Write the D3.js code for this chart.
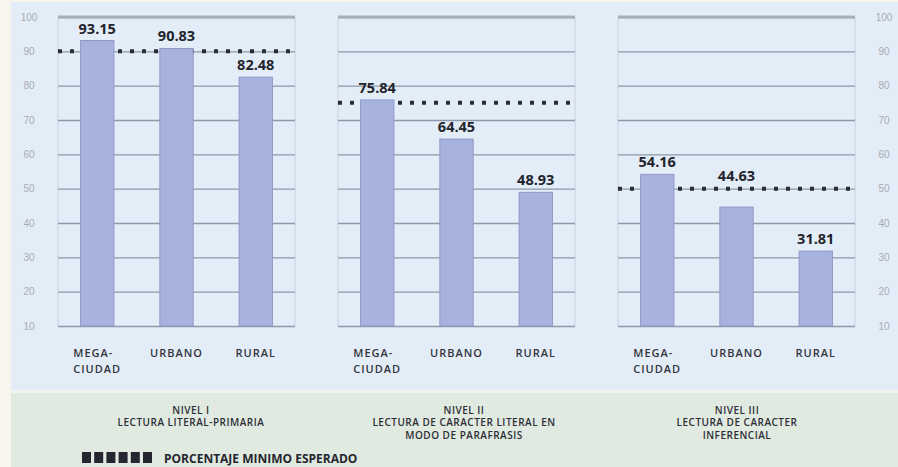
<!DOCTYPE html>
<html>
<head>
<meta charset="utf-8">
<script src="https://cdn.jsdelivr.net/npm/d3@7"></script>
<style>
  html, body { margin: 0; padding: 0; background: #f8f5ee; }
  svg { display: block; font-family: "Open Sans", "DejaVu Sans", sans-serif; }
  .grid line { stroke: #8e99aa; stroke-width: 1.4; }
  .grid .domain { display: none; }
  .yaxis .domain, .yaxis line { display: none; }
  .yaxis text { fill: #a7abb2; font-size: 10px; }
</style>
</head>
<body>
<div id="chart"></div>
<script>
// data
var categories = ["MEGA-CIUDAD", "URBANO", "RURAL"];
var catLines = [["MEGA-", "CIUDAD"], ["URBANO"], ["RURAL"]];
var nivelI = [93.15, 90.83, 82.48];
var nivelII = [75.84, 64.45, 48.93];
var nivelIII = [54.16, 44.63, 31.81];
var expected = [90, 75, 50];
var levelTitles = [
    ["NIVEL I", "LECTURA LITERAL-PRIMARIA"],
    ["NIVEL II", "LECTURA DE CARACTER LITERAL EN", "MODO DE PARAFRASIS"],
    ["NIVEL III", "LECTURA DE CARACTER", "INFERENCIAL"]
];
var yTicks = [10, 20, 30, 40, 50, 60, 70, 80, 90, 100];
var legendLabel = "PORCENTAJE MINIMO ESPERADO";

var series = [nivelI, nivelII, nivelIII];

// layout
var W = 898, H = 467;
var panelLeft = 58, panelWidth = 237, panelStep = 280;
var titleX = [191, 464, 737];

var svg = d3.select("#chart").append("svg")
    .attr("width", W)
    .attr("height", H);

// backgrounds
svg.append("rect").attr("x", 11).attr("y", 2).attr("width", W - 11).attr("height", 388).attr("fill", "#e3edf8");
svg.append("rect").attr("x", 11).attr("y", 390).attr("width", W - 11).attr("height", 3).attr("fill", "#f1f3ee");
svg.append("rect").attr("x", 11).attr("y", 393).attr("width", W - 11).attr("height", H - 393).attr("fill", "#e1eae1");

var y = d3.scaleLinear().domain([10, 100]).range([326, 17]);

series.forEach(function (vals, p) {
    var left = panelLeft + p * panelStep;
    var x = d3.scaleBand()
        .domain(categories)
        .range([left, left + panelWidth])
        .paddingInner(0.58)
        .paddingOuter(0.285);

    var g = svg.append("g");

    // frame sides
    g.selectAll(".side").data([left, left + panelWidth]).enter().append("line")
        .attr("x1", function (d) { return d; }).attr("x2", function (d) { return d; })
        .attr("y1", y(100)).attr("y2", y(10))
        .attr("stroke", "#c9d1dc").attr("stroke-width", 1);

    // gridlines
    g.append("g")
        .attr("class", "grid")
        .attr("transform", "translate(" + left + ",0)")
        .call(d3.axisLeft(y).tickValues(yTicks).tickSize(-panelWidth).tickFormat(""));
    g.append("line")
        .attr("x1", left).attr("x2", left + panelWidth)
        .attr("y1", y(100)).attr("y2", y(100))
        .attr("stroke", "#a7afbc").attr("stroke-width", 3);

    // minimum expected line
    g.append("line")
        .attr("x1", left).attr("x2", left + panelWidth)
        .attr("y1", y(expected[p])).attr("y2", y(expected[p]))
        .attr("stroke", "#2b2c36").attr("stroke-width", 4)
        .attr("stroke-dasharray", "4,8");

    // bars
    g.selectAll(".bar").data(vals).enter().append("rect")
        .attr("class", "bar")
        .attr("x", function (d, i) { return x(categories[i]); })
        .attr("width", x.bandwidth())
        .attr("y", function (d) { return y(d); })
        .attr("height", function (d) { return y(10) - y(d); })
        .attr("fill", "#a8b2de")
        .attr("stroke", "#8f98c6")
        .attr("stroke-width", 1);

    // value labels, pushed above the dotted line if they would sit on it
    g.selectAll(".val").data(vals).enter().append("text")
        .attr("class", "val")
        .attr("x", function (d, i) { return x(categories[i]) + x.bandwidth() / 2; })
        .attr("y", function (d) {
            var base = y(d) - 7;
            var t = y(expected[p]);
            if (base > t - 3 && base - 11 < t + 3) base = t - 8;
            return base;
        })
        .attr("text-anchor", "middle")
        .attr("font-size", "14.5px")
        .attr("font-weight", 700)
        .attr("fill", "#23242b")
        .text(function (d) { return d3.format(".2f")(d); });

    // category labels
    categories.forEach(function (c, i) {
        var cx = x(c) + x.bandwidth() / 2;
        var t = g.append("text")
            .attr("font-size", "11px")
            .attr("font-weight", 600)
            .attr("letter-spacing", "1px")
            .attr("fill", "#34353c");
        catLines[i].forEach(function (line, k) {
            t.append("tspan").attr("y", 357 + k * 16).text(line);
        });
        var widest = d3.max(t.selectAll("tspan").nodes(), function (n) { return n.getComputedTextLength(); });
        t.selectAll("tspan").attr("x", cx - widest / 2);
    });

    // level titles
    var tt = svg.append("text")
        .attr("text-anchor", "middle")
        .attr("font-size", "10px")
        .attr("font-weight", 600)
        .attr("letter-spacing", "0.5px")
        .attr("fill", "#2e2f36");
    levelTitles[p].forEach(function (line, k) {
        tt.append("tspan").attr("x", titleX[p]).attr("y", 414 + k * 12.3).text(line);
    });
});

// tick labels left of first panel, right of last panel
svg.append("g")
    .attr("class", "yaxis")
    .attr("transform", "translate(29,0)")
    .call(d3.axisLeft(y).tickValues(yTicks).tickSize(0).tickPadding(0))
    .selectAll("text").attr("text-anchor", "middle");
svg.append("g")
    .attr("class", "yaxis")
    .attr("transform", "translate(884,0)")
    .call(d3.axisRight(y).tickValues(yTicks).tickSize(0).tickPadding(0))
    .selectAll("text").attr("text-anchor", "middle");

// legend
var lg = svg.append("g");
lg.selectAll("rect").data(d3.range(6)).enter().append("rect")
    .attr("x", function (d) { return 82 + d * 12.2; })
    .attr("y", 452)
    .attr("width", 9)
    .attr("height", 11)
    .attr("fill", "#25262f");
lg.append("text")
    .attr("x", 164).attr("y", 463)
    .attr("font-size", "12px")
    .attr("font-weight", 700)
    .attr("fill", "#25262f")
    .text(legendLabel);
</script>
</body>
</html>
